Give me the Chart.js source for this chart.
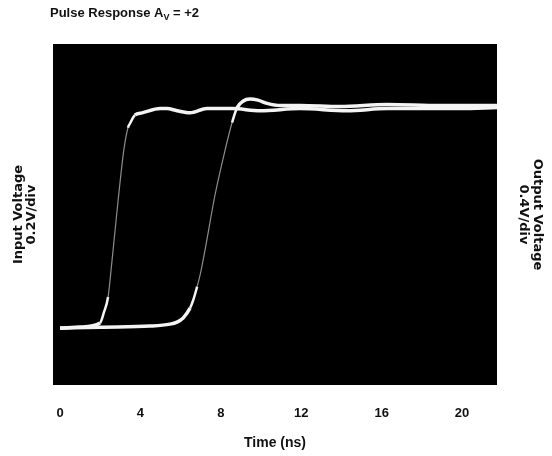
<!DOCTYPE html>
<html>
<head>
  <meta charset="UTF-8">
  <title>Pulse Response</title>
  <script src="https://cdn.jsdelivr.net/npm/chart.js"></script>
  <style>
    body { margin: 0; background: #fff; }
    #wrap { width: 552px; height: 456px; position: relative; }
  </style>
</head>
<body>
  <div id="wrap"><canvas id="chart"></canvas></div>

  <script>
  // time axis (ns)
  const timeTicks = [0, 4, 8, 12, 16, 20];

  // input trace, volts (0.2V/div)
  const inputTime  = [0, 1.0, 1.99, 2.19, 2.39, 2.59, 2.89, 3.18, 3.38, 3.48, 3.73, 4.08, 4.98, 5.32, 5.82, 6.47, 7.31, 8.11, 8.56, 9.95, 11.94, 14.28, 16.27, 17.91, 19.9, 21.74];
  const inputVolts = [0.00, 0.005, 0.024, 0.076, 0.146, 0.32, 0.60, 0.84, 0.94, 0.96, 1.00, 1.01, 1.03, 1.03, 1.02, 1.01, 1.03, 1.03, 1.03, 1.02, 1.03, 1.02, 1.03, 1.03, 1.03, 1.035];

  // output trace, volts (0.4V/div)
  const outputTime  = [0, 1.99, 4.48, 5.47, 5.82, 6.12, 6.47, 6.62, 6.82, 6.97, 7.21, 7.71, 8.21, 8.56, 8.81, 9.10, 9.45, 9.85, 10.30, 10.95, 11.94, 13.93, 16.27, 18.9, 21.74];
  const outputVolts = [0.00, 0.01, 0.02, 0.038, 0.057, 0.095, 0.19, 0.26, 0.39, 0.50, 0.73, 1.25, 1.67, 1.93, 2.07, 2.13, 2.15, 2.14, 2.11, 2.09, 2.09, 2.08, 2.10, 2.09, 2.09];

  const toPoints = (xs, ys) => xs.map((x, i) => ({x: x, y: ys[i]}));

  // thinner, dimmer line on the fast edges, like the scope trace
  function slope(ctx) {
    const dx = Math.abs(ctx.p1.x - ctx.p0.x) || 0.01;
    return Math.abs(ctx.p1.y - ctx.p0.y) / dx;
  }
  const segStyle = {
    borderWidth: ctx => slope(ctx) > 3.8 ? 1.2 : (slope(ctx) > 1.5 ? 2.5 : 3.5),
    borderColor: ctx => slope(ctx) > 3.8 ? 'rgba(255,255,255,0.55)' : '#f4f4f4'
  };

  const screenBg = {
    id: 'screenBg',
    beforeDatasetsDraw(chart) {
      const a = chart.chartArea;
      const ctx = chart.ctx;
      ctx.save();
      ctx.fillStyle = '#000';
      ctx.fillRect(a.left, a.top, a.right - a.left, a.bottom - a.top);
      ctx.restore();
    }
  };

  const heading = {
    id: 'heading',
    afterDraw(chart) {
      const ctx = chart.ctx;
      ctx.save();
      ctx.fillStyle = '#111';
      ctx.textBaseline = 'alphabetic';
      ctx.font = 'bold 13px "Liberation Sans", Arial, sans-serif';
      let x = 50;
      ctx.fillText('Pulse Response A', x, 17);
      x += ctx.measureText('Pulse Response A').width;
      ctx.font = 'bold 9px "Liberation Sans", Arial, sans-serif';
      ctx.fillText('V', x, 20);
      x += ctx.measureText('V').width;
      ctx.font = 'bold 13px "Liberation Sans", Arial, sans-serif';
      ctx.fillText(' = +2', x, 17);
      ctx.restore();
    }
  };

  Chart.defaults.font.family = '"Liberation Sans", Arial, sans-serif';
  Chart.defaults.color = '#111';

  new Chart(document.getElementById('chart'), {
    type: 'line',
    data: {
      datasets: [{
        label: 'Input',
        data: toPoints(inputTime, inputVolts),
        yAxisID: 'y',
        borderColor: '#f4f4f4',
        borderWidth: 3.5,
        pointRadius: 0,
        cubicInterpolationMode: 'monotone',
        segment: segStyle
      }, {
        label: 'Output',
        data: toPoints(outputTime, outputVolts),
        yAxisID: 'y2',
        borderColor: '#f4f4f4',
        borderWidth: 3.5,
        pointRadius: 0,
        cubicInterpolationMode: 'monotone',
        segment: segStyle
      }]
    },
    options: {
      responsive: true,
      maintainAspectRatio: false,
      animation: false,
      layout: { padding: { top: 44, left: 8, right: 3.4, bottom: 0.6 } },
      plugins: { legend: { display: false }, tooltip: { enabled: false } },
      scales: {
        x: {
          type: 'linear',
          min: -0.35,
          max: 21.74,
          grid: { display: false, drawTicks: false },
          border: { display: false },
          afterBuildTicks: scale => { scale.ticks = timeTicks.map(v => ({value: v})); },
          ticks: { padding: 21, maxRotation: 0, font: { size: 13, weight: 'bold' } },
          title: {
            display: true,
            text: 'Time (ns)',
            font: { size: 14, weight: 'bold' },
            padding: { top: -8, bottom: 4 }
          }
        },
        y: {
          position: 'left',
          min: -0.267,
          max: 1.333,
          grid: { display: false, drawTicks: false },
          border: { display: false },
          ticks: { display: false },
          title: {
            display: true,
            text: ['Input Voltage', '0.2V/div'],
            font: { family: '"DejaVu Sans", sans-serif', size: 13, weight: 'bold', lineHeight: 1.0 },
            padding: { top: 4, bottom: 15 }
          }
        },
        y2: {
          position: 'right',
          min: -0.533,
          max: 2.667,
          grid: { display: false, drawTicks: false },
          border: { display: false },
          ticks: { display: false },
          title: {
            display: true,
            text: ['Output Voltage', '0.4V/div'],
            font: { family: '"DejaVu Sans", sans-serif', size: 13, weight: 'bold', lineHeight: 1.1 },
            padding: { top: 4, bottom: 19 }
          }
        }
      }
    },
    plugins: [screenBg, heading]
  });
  </script>
</body>
</html>
